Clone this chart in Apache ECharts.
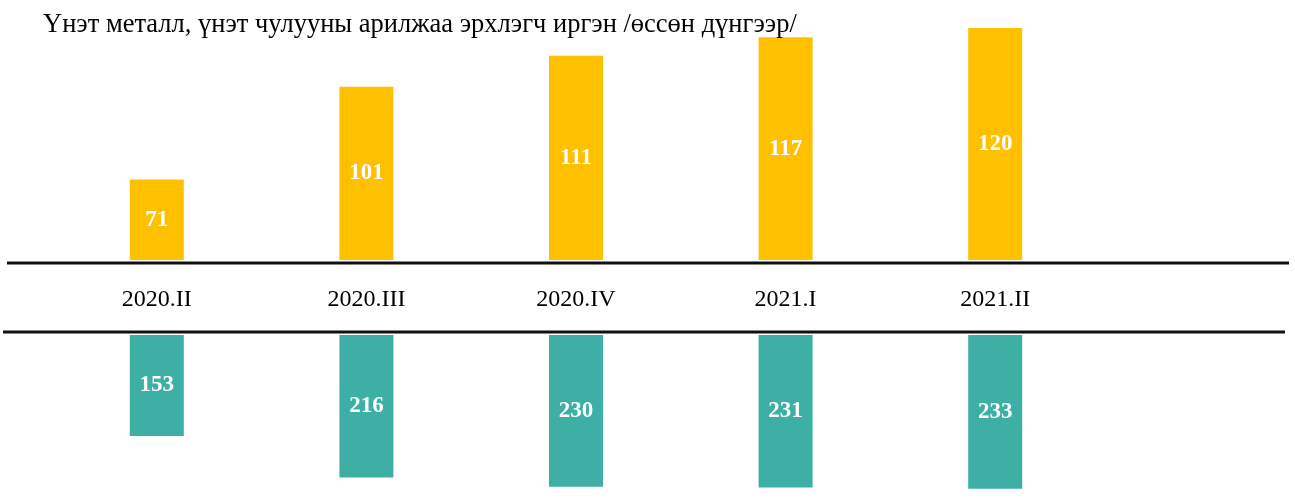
<!DOCTYPE html>
<html>
<head>
<meta charset="utf-8">
<script src="https://cdn.jsdelivr.net/npm/echarts@6/dist/echarts.min.js"></script>
<style>
  html, body { margin: 0; padding: 0; background: #fff; }
  #main { width: 1295px; height: 500px; }
</style>
</head>
<body>
<div id="main"></div>
<script>
var quarters = ['2020.II', '2020.III', '2020.IV', '2021.I', '2021.II'];
var metalTraders = [71, 101, 111, 117, 120];
var otherValues = [153, 216, 230, 231, 233];

var serif = '"Liberation Serif", "Times New Roman", serif';

var myChart = echarts.init(document.getElementById('main'));

function barLabel() {
    return {
        show: true,
        position: 'inside',
        color: '#fff',
        fontFamily: serif,
        fontWeight: 'bold',
        fontSize: 23
    };
}

myChart.setOption({
    animation: false,
    title: {
        text: 'Үнэт металл, үнэт чулууны арилжаа эрхлэгч иргэн /өссөн дүнгээр/',
        left: 38,
        top: 7,
        textStyle: {
            fontFamily: serif,
            fontWeight: 'normal',
            fontSize: 26.5,
            color: '#000'
        }
    },
    grid: [
        { left: 52, width: 1048, top: 28, height: 232 },
        { left: 52, width: 1048, top: 335, height: 170 }
    ],
    xAxis: [{
        gridIndex: 0,
        type: 'category',
        data: quarters,
        axisLine: { show: false },
        axisTick: { show: false },
        axisLabel: {
            margin: 28,
            fontFamily: serif,
            fontSize: 24,
            color: '#000'
        }
    }, {
        gridIndex: 1,
        type: 'category',
        data: quarters,
        position: 'top',
        axisLine: { show: false },
        axisTick: { show: false },
        axisLabel: { show: false }
    }],
    yAxis: [{
        gridIndex: 0,
        type: 'value',
        min: 45,
        max: 120,
        show: false
    }, {
        gridIndex: 1,
        type: 'value',
        min: 0,
        max: 250,
        inverse: true,
        show: false
    }],
    series: [{
        type: 'bar',
        xAxisIndex: 0,
        yAxisIndex: 0,
        data: metalTraders,
        barWidth: 54,
        itemStyle: { color: '#FFC000' },
        label: barLabel()
    }, {
        type: 'bar',
        xAxisIndex: 1,
        yAxisIndex: 1,
        data: otherValues,
        barWidth: 54,
        itemStyle: { color: '#3DAFA5' },
        label: barLabel()
    }],
    graphic: [{
        type: 'line',
        shape: { x1: 7, y1: 263, x2: 1289, y2: 263 },
        style: { stroke: '#111', lineWidth: 3 }
    }, {
        type: 'line',
        shape: { x1: 3, y1: 332, x2: 1285, y2: 332 },
        style: { stroke: '#111', lineWidth: 3 }
    }]
});
</script>
</body>
</html>
